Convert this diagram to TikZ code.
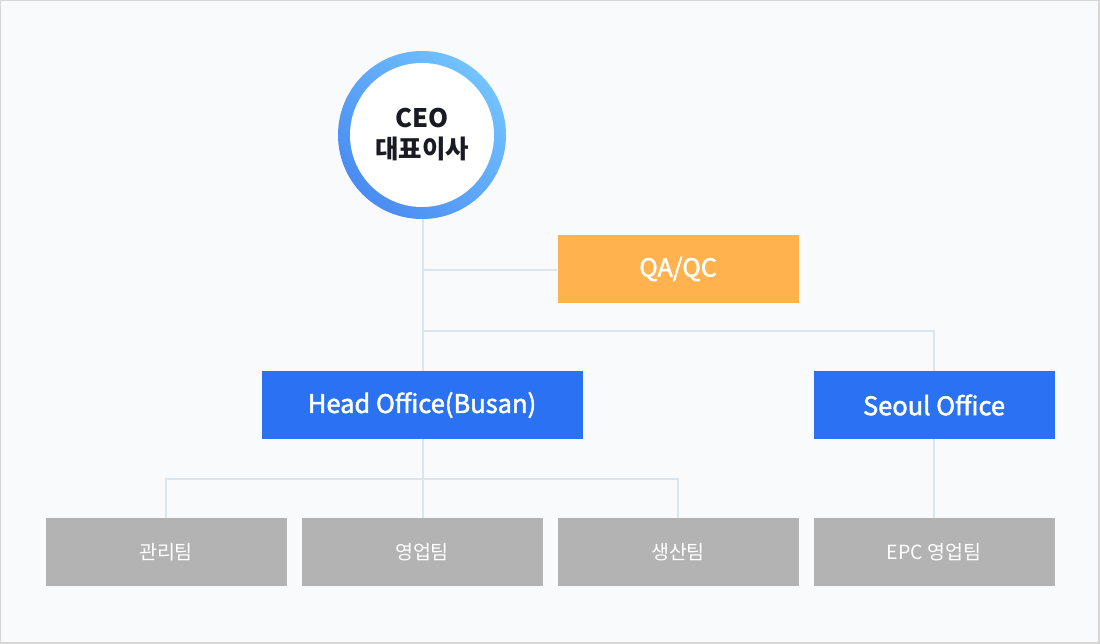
\documentclass[tikz,border=0pt]{standalone}
\usepackage{fontspec}
\setmainfont{Noto Sans CJK KR}
\newfontfamily\krm{Noto Sans CJK KR}[FakeBold=2]
\definecolor{bgc}{HTML}{F9FAFC}
\definecolor{bordc}{HTML}{D6D6D6}
\definecolor{linec}{HTML}{DCE5EC}
\definecolor{qac}{HTML}{FFB24D}
\definecolor{bluec}{HTML}{2A72F2}
\definecolor{greyc}{HTML}{B3B3B3}
\definecolor{ringlight}{HTML}{72C3FF}
\definecolor{ringdark}{HTML}{4A8CF2}
\definecolor{txtdark}{HTML}{1A1A22}
\tikzset{
  box/.style={minimum width=240pt, minimum height=68pt, inner sep=0pt, text=white},
  qabox/.style={box, fill=qac, font=\krm\fontsize{25}{29}\selectfont},
  officebox/.style={box, fill=bluec, font=\krm\fontsize{25.5}{29}\selectfont},
  teambox/.style={box, fill=greyc, font=\fontsize{19.5}{23}\selectfont},
  conn/.style={draw=linec, line width=2pt}
}
\begin{document}
\begin{tikzpicture}[x=1pt,y=-1pt]
\useasboundingbox (0,0) rectangle (1100,644);
\fill[bordc] (0,0) rectangle (1100,644);
\fill[bgc] (1,1) rectangle (1098,642);
% CEO circle
\coordinate (c) at (422,135);
\shade[left color=ringlight, right color=ringdark, shading angle=-45] (c) circle[radius=84pt];
\fill[white] (c) circle[radius=72pt];
\node[circle, minimum size=168pt, inner sep=0pt, align=center, text=txtdark, font=\fontsize{25.5}{31}\selectfont\bfseries] (ceo) at (c) {CEO\\대표이사};
% boxes
\node[qabox, minimum width=241pt] (qa) at (678,269) {QA/QC};
\node[officebox, minimum width=321pt] (head) at (422,405) {Head Office(Busan)};
\node[officebox, minimum width=241pt] (seoul) at (934,405) {Seoul Office};
\node[teambox, minimum width=241pt] (t1) at (166,552) {관리팀};
\node[teambox, minimum width=241pt] (t2) at (422,552) {영업팀};
\node[teambox, minimum width=241pt] (t3) at (678,552) {생산팀};
\node[teambox, minimum width=241pt] (t4) at (934,552) {EPC 영업팀};
% connectors
\coordinate (j1) at (423,270);
\coordinate (j2) at (423,331);
\coordinate (j3) at (423,479);
\draw[conn] (ceo.south -| j1) -- (j1 |- head.north);
\draw[conn] (j1) -- (qa.west |- j1);
\draw[conn] (j2) -| (seoul.north);
\draw[conn] (head.south -| j3) -- (j3 |- t2.north);
\draw[conn] (t1.north) |- (j3) -| (t3.north);
\draw[conn] (seoul.south) -- (t4.north);
\end{tikzpicture}
\end{document}
